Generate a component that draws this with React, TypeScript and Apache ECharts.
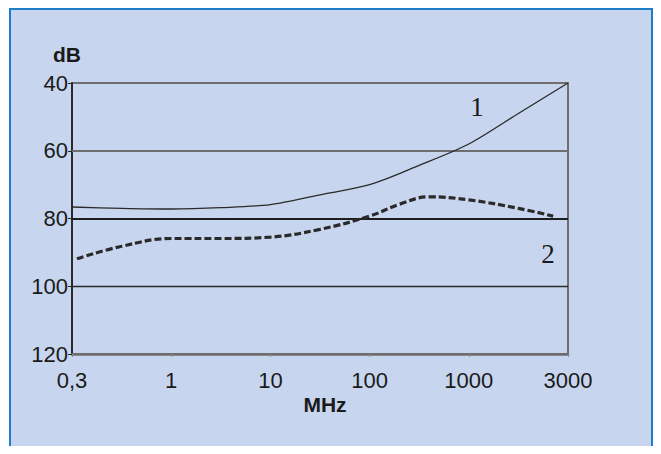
import React, { useEffect, useRef } from "react";
import * as echarts from "echarts";

// Category tick labels (equally spaced frequency points, MHz)
const xTickLabels = ["0,3", "1", "10", "100", "1000", "3000"];
// Curve 1 (solid): [category position, dB]
const curve1X = [0, 0.5, 1, 1.5, 2, 2.5, 3, 3.5, 4, 4.5, 5];
const curve1Y = [76.6, 77.0, 77.2, 76.8, 75.9, 73.0, 70.0, 64.3, 58.0, 49.0, 40.0];
// Curve 2 (dashed): [category position, dB]
const curve2X = [0.05, 0.5, 1, 1.5, 2, 2.5, 3, 3.3, 3.6, 4, 4.5, 4.85];
const curve2Y = [91.9, 88.2, 85.9, 85.9, 85.5, 83.2, 79.3, 75.8, 73.6, 74.5, 77.0, 79.3];
// Reference levels
const levelLines = [60, 80, 100];

export default function App() {
  const ref = useRef<HTMLDivElement>(null);
  useEffect(() => {
    if (!ref.current) return;
    const chart = echarts.init(ref.current, undefined, { renderer: "svg" });
    const d1 = curve1X.map((x, i) => [x, curve1Y[i]]);
    const d2 = curve2X.map((x, i) => [x, curve2Y[i]]);
    const lineStyles = [
      { color: "#6e6e6e", width: 2, type: "solid" },
      { color: "#1e1e1e", width: 2, type: "solid" },
      { color: "#2a2a2a", width: 1.3, type: "solid" },
    ];
    chart.setOption({
      animation: false,
      backgroundColor: "#ffffff",
      graphic: [
        {
          type: "rect",
          shape: { x: 10, y: 9, width: 642, height: 460 },
          style: { fill: "#c7d6ee", stroke: "#1f7cc8", lineWidth: 2 },
          z: -10,
          silent: true,
        },
        {
          type: "text",
          x: 53,
          y: 44,
          style: { text: "dB", font: "bold 21px 'Liberation Sans', Arial, sans-serif", fill: "#1a1a1a" },
        },
        {
          type: "text",
          x: 325,
          y: 404,
          style: {
            text: "MHz",
            font: "bold 21px 'Liberation Sans', Arial, sans-serif",
            fill: "#1a1a1a",
            textAlign: "center",
            textVerticalAlign: "middle",
          },
        },
        {
          type: "text",
          x: 477,
          y: 107,
          style: {
            text: "1",
            font: "27px 'Liberation Serif', 'Times New Roman', serif",
            fill: "#1a1a1a",
            textAlign: "center",
            textVerticalAlign: "middle",
          },
        },
        {
          type: "text",
          x: 548,
          y: 254,
          style: {
            text: "2",
            font: "27px 'Liberation Serif', 'Times New Roman', serif",
            fill: "#1a1a1a",
            textAlign: "center",
            textVerticalAlign: "middle",
          },
        },
      ],
      grid: {
        left: 72,
        top: 83,
        width: 496,
        height: 271,
        show: true,
        backgroundColor: "transparent",
        borderColor: "#6e6e6e",
        borderWidth: 2,
      },
      xAxis: {
        type: "value",
        min: 0,
        max: 5,
        interval: 1,
        axisLine: { show: true, lineStyle: { color: "#6e6e6e", width: 2.5 } },
        axisTick: { show: true, length: 3, lineStyle: { color: "#888" } },
        splitLine: { show: false },
        axisLabel: {
          margin: 15,
          color: "#1a1a1a",
          fontSize: 22,
          fontFamily: "Liberation Sans",
          formatter: (v: number) => xTickLabels[Math.round(v)] ?? "",
        },
      },
      yAxis: {
        type: "value",
        inverse: true,
        min: 40,
        max: 120,
        interval: 20,
        axisLine: { show: true, lineStyle: { color: "#2a2a2a", width: 2 } },
        axisTick: { show: true, length: 4, lineStyle: { color: "#2a2a2a" } },
        splitLine: { show: false },
        axisLabel: {
          margin: 4,
          color: "#1a1a1a",
          fontSize: 22,
          fontFamily: "Liberation Sans",
        },
      },
      series: [
        {
          type: "line",
          data: d1,
          smooth: 0.3,
          symbol: "none",
          lineStyle: { color: "#2a2a2a", width: 1.3 },
          z: 5,
          markLine: {
            silent: true,
            symbol: "none",
            label: { show: false },
            data: levelLines.map((v, i) => ({ yAxis: v, lineStyle: lineStyles[i] })),
          },
        },
        {
          type: "line",
          data: d2,
          smooth: 0.4,
          symbol: "none",
          lineStyle: { color: "#2a2a2a", width: 3.2, type: [7, 3] },
          z: 6,
        },
      ],
    });
    return () => chart.dispose();
  }, []);
  return <div ref={ref} style={{ width: 661, height: 454, margin: -8 }} />;
}
